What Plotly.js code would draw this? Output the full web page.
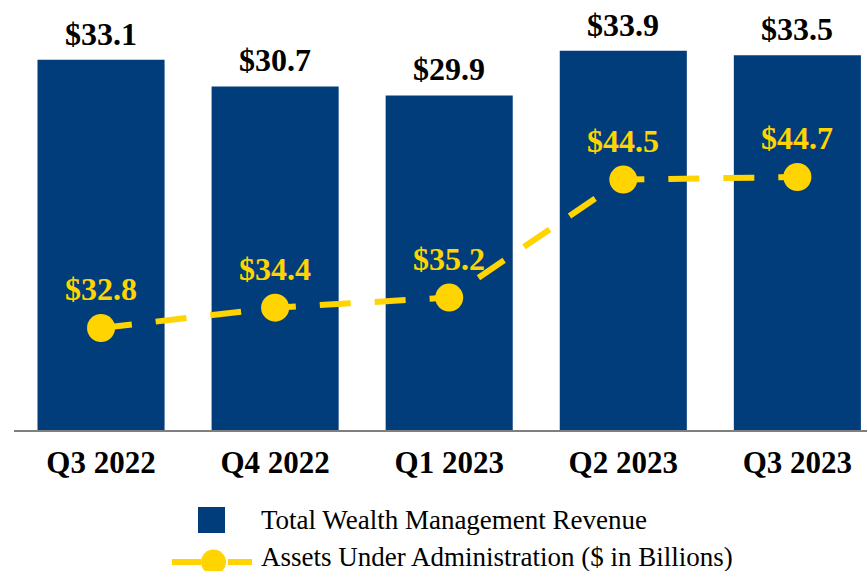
<!DOCTYPE html>
<html>
<head>
<meta charset="utf-8">
<script src="https://cdn.plot.ly/plotly-3.0.1.min.js"></script>
<style>html,body{margin:0;padding:0;background:#fff;}#chart{width:867px;height:571px;}</style>
</head>
<body>
<div id="chart"></div>
<script>
const categories = ['Q3 2022', 'Q4 2022', 'Q1 2023', 'Q2 2023', 'Q3 2023'];
const revenue = [33.1, 30.7, 29.9, 33.9, 33.5];
const aua = [32.8, 34.4, 35.2, 44.5, 44.7];
const seriesNames = ['Total Wealth Management Revenue', 'Assets Under Administration ($ in Billions)'];

const NAVY = '#023d7b';
const GOLD = '#ffd400';
const FONT = 'Liberation Serif, Times New Roman, serif';

const W = 867, H = 571, ML = 14, MR = 0, MT = 0, MB = 141;
const PW = W - ML - MR, PH = H - MT - MB;
const px = x => (x - ML) / PW;
const py = y => (H - MB - y) / PH;

const barTrace = {
  type: 'bar', x: categories, y: revenue, name: seriesNames[0],
  marker: {color: NAVY}, width: 0.73, showlegend: false, hoverinfo: 'skip'
};
const lineTrace = {
  type: 'scatter', mode: 'lines+markers', x: categories, y: aua, yaxis: 'y2',
  name: seriesNames[1], line: {color: GOLD, width: 6, dash: '31px,24px'},
  marker: {color: GOLD, size: 28}, showlegend: false, hoverinfo: 'skip'
};

const annotations = [];
categories.forEach((c, i) => {
  annotations.push({x: c, y: revenue[i], xref: 'x', yref: 'y', text: '$' + revenue[i].toFixed(1),
    showarrow: false, yanchor: 'middle', yshift: 26,
    font: {family: FONT, size: 32, color: '#000', weight: 'bold'}});
  annotations.push({x: c, y: aua[i], xref: 'x', yref: 'y2', text: '$' + aua[i].toFixed(1),
    showarrow: false, yanchor: 'middle', yshift: 39,
    font: {family: FONT, size: 32, color: GOLD, weight: 'bold'}});
});
// manual legend text
annotations.push({xref: 'paper', yref: 'paper', x: px(259), y: py(520), xanchor: 'left', yanchor: 'middle',
  text: seriesNames[0], showarrow: false, font: {family: FONT, size: 27, color: '#000'}});
annotations.push({xref: 'paper', yref: 'paper', x: px(259), y: py(557), xanchor: 'left', yanchor: 'middle',
  text: seriesNames[1], showarrow: false, font: {family: FONT, size: 27, color: '#000'}});

const shapes = [
  {type: 'rect', xref: 'paper', yref: 'paper', x0: px(198), x1: px(225), y0: py(533), y1: py(507),
   fillcolor: NAVY, line: {width: 0}},
  {type: 'line', xref: 'paper', yref: 'paper', x0: px(172), x1: px(201), y0: py(562), y1: py(562),
   line: {color: GOLD, width: 6}},
  {type: 'line', xref: 'paper', yref: 'paper', x0: px(228), x1: px(252), y0: py(562), y1: py(562),
   line: {color: GOLD, width: 6}},
  {type: 'circle', xref: 'paper', yref: 'paper', x0: px(201), x1: px(226), y0: py(574.5), y1: py(549.5),
   fillcolor: GOLD, line: {width: 0}}
];

const layout = {
  width: W, height: H,
  margin: {l: ML, r: MR, t: MT, b: MB, pad: 0},
  paper_bgcolor: '#fff', plot_bgcolor: '#fff',
  showlegend: false,
  font: {family: FONT},
  xaxis: {
    range: [-0.5, 4.40], showline: true, linecolor: '#7f7f7f', linewidth: 2,
    ticks: '', showgrid: false, zeroline: false, ticklabelstandoff: 4,
    tickfont: {family: FONT, size: 31, color: '#000', weight: 'bold'}, fixedrange: true
  },
  yaxis: {range: [0, 38.43], visible: false, showgrid: false, zeroline: false},
  yaxis2: {range: [24.76, 58.65], overlaying: 'y', visible: false, showgrid: false, zeroline: false},
  annotations: annotations,
  shapes: shapes
};

Plotly.newPlot('chart', [barTrace, lineTrace], layout, {displayModeBar: false, staticPlot: true});
</script>
</body>
</html>
